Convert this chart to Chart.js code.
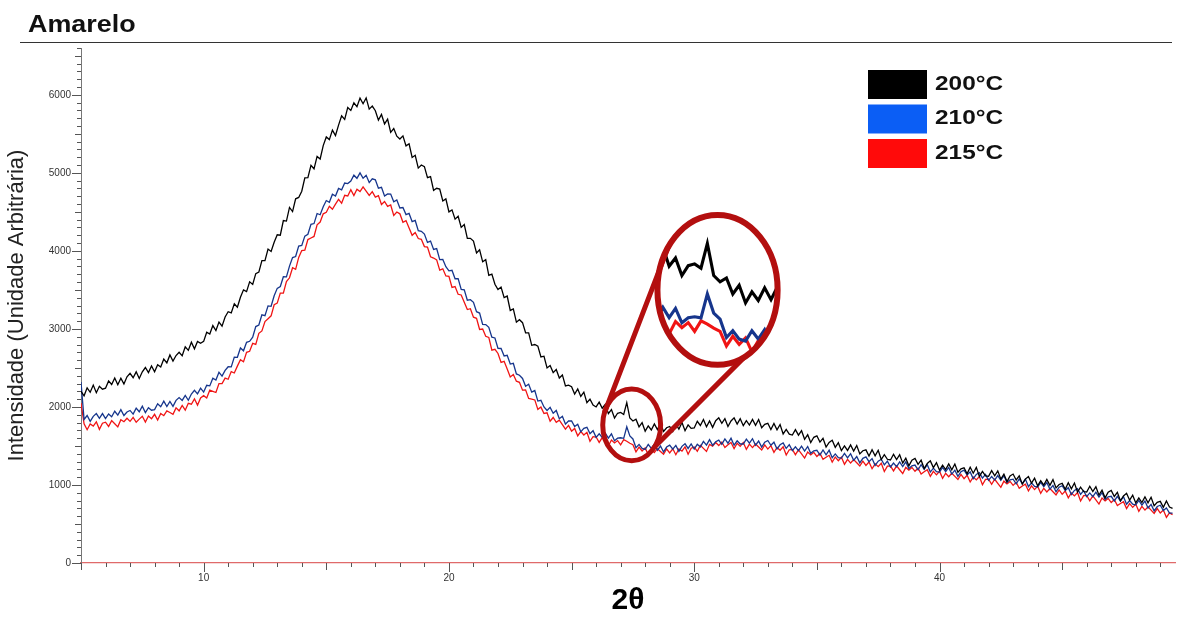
<!DOCTYPE html>
<html>
<head>
<meta charset="utf-8">
<script src="https://cdn.jsdelivr.net/npm/chart.js@4.4.0/dist/chart.umd.min.js"></script>
<style>
  html, body { margin: 0; padding: 0; background: #fff; }
  #wrap { position: relative; width: 1185px; height: 619px; }
  #chart { position: absolute; left: 0; top: 0; }
  #title { position: absolute; left: 28px; top: 10px; font: bold 24px "Liberation Sans", Arial, sans-serif; color: #111; transform: scaleX(1.12); transform-origin: left top; }
  #rule { position: absolute; left: 20px; top: 42px; width: 1152px; border-top: 1.5px solid #333; }
</style>
</head>
<body>
<div id="wrap">
  <canvas id="chart" width="1185" height="619"></canvas>
  <div id="title">Amarelo</div>
  <div id="rule"></div>
</div>
<script>
// 2θ grid: 5° to 49.5° every 0.125°
var thetaStart = 5;
var thetaStep = 0.125;

var seriesNames = ['200°C', '210°C', '215°C'];

// one row per degree (8 readings), last row 49 .. 49.5
var int200 = [
  2200,2143,2245,2188,2280,2183,2265,2228,
  2240,2334,2288,2371,2285,2369,2293,2386,
  2430,2375,2450,2365,2450,2505,2440,2525,
  2450,2541,2513,2614,2565,2666,2588,2659,
  2700,2655,2770,2725,2830,2745,2840,2815,
  2840,2958,2935,3043,2980,3088,3035,3153,
  3220,3206,3323,3279,3405,3501,3478,3604,
  3570,3709,3728,3876,3875,4024,3993,4111,
  4206,4201,4388,4382,4557,4504,4667,4685,
  4764,4935,4938,5097,5052,5211,5178,5349,
  5460,5426,5548,5478,5612,5730,5684,5838,
  5800,5897,5849,5958,5886,5960,5817,5855,
  5796,5676,5748,5627,5687,5519,5567,5470,
  5434,5474,5346,5373,5197,5225,5061,5100,
  5080,4939,4953,4776,4802,4793,4639,4666,
  4500,4525,4407,4444,4301,4338,4160,4161,
  4126,3973,4013,3860,3887,3686,3702,3573,
  3504,3536,3401,3421,3237,3257,3086,3118,
  3080,2950,2950,2790,2800,2780,2640,2650,
  2500,2530,2440,2480,2370,2410,2270,2280,
  2260,2165,2230,2135,2190,2055,2100,2025,
  2000,2061,1983,2034,1915,1966,1858,1919,
  1930,1903,2055,1858,1820,1843,1745,1798,
  1690,1758,1705,1783,1710,1788,1685,1733,
  1750,1685,1780,1715,1800,1695,1770,1725,
  1730,1816,1763,1839,1745,1821,1738,1824,
  1860,1790,1850,1750,1820,1860,1780,1850,
  1760,1824,1768,1841,1765,1839,1733,1776,
  1790,1709,1788,1706,1775,1654,1713,1651,
  1640,1709,1638,1696,1585,1644,1543,1611,
  1630,1549,1598,1486,1545,1574,1483,1541,
  1440,1501,1443,1514,1435,1506,1398,1439,
  1450,1371,1453,1374,1445,1326,1388,1329,
  1320,1393,1325,1388,1280,1343,1245,1318,
  1340,1264,1318,1211,1275,1309,1223,1286,
  1190,1254,1198,1271,1195,1269,1163,1206,
  1220,1144,1228,1151,1225,1109,1173,1116,
  1110,1184,1118,1181,1075,1139,1043,1116,
  1140,1064,1118,1011,1075,1109,1023,1086,
  990,1054,998,1071,995,1069,963,1006,
  1020,944,1028,951,1025,909,973,916,
  910,983,915,978,870,933,835,908,
  930,853,905,798,860,893,805,868,
  770,833,775,848,770,843,735,778,
  790,713,795,718,700
];

var int210 = [
  2320,1840,1890,1815,1880,1915,1855,1915,
  1850,1910,1875,1945,1895,1965,1890,1935,
  1955,1908,1985,1938,2010,1928,1990,1958,
  1965,2041,2003,2074,2005,2071,2008,2084,
  2120,2084,2148,2086,2165,2214,2168,2241,
  2190,2278,2270,2368,2345,2443,2395,2468,
  2515,2514,2638,2636,2755,2719,2828,2841,
  2895,3030,3050,3180,3170,3295,3290,3425,
  3520,3544,3668,3666,3805,3914,3928,4061,
  4070,4189,4213,4341,4350,4479,4463,4566,
  4645,4623,4725,4703,4800,4783,4870,4863,
  4895,4970,4930,5000,4930,4968,4875,4923,
  4910,4803,4815,4703,4730,4728,4630,4653,
  4550,4555,4465,4480,4375,4390,4260,4250,
  4215,4108,4125,4018,4030,3888,3890,3798,
  3745,3751,3643,3644,3505,3501,3368,3374,
  3340,3221,3203,3059,3055,3021,2893,2884,
  2750,2749,2653,2661,2550,2559,2423,2406,
  2365,2265,2290,2190,2210,2075,2085,2000,
  1955,1995,1920,1955,1850,1880,1780,1820,
  1820,1749,1778,1681,1725,1739,1658,1696,
  1610,1656,1608,1664,1600,1656,1568,1599,
  1605,1598,1745,1628,1590,1478,1520,1468,
  1455,1519,1468,1526,1445,1499,1423,1486,
  1510,1459,1508,1431,1495,1529,1468,1526,
  1460,1521,1488,1559,1510,1581,1508,1554,
  1575,1520,1590,1535,1600,1510,1565,1525,
  1525,1588,1535,1593,1510,1563,1485,1548,
  1570,1509,1548,1461,1515,1539,1468,1516,
  1440,1488,1440,1498,1435,1493,1405,1438,
  1445,1384,1448,1386,1445,1349,1398,1351,
  1345,1404,1348,1401,1315,1364,1283,1341,
  1360,1299,1338,1251,1305,1329,1258,1306,
  1230,1280,1235,1295,1235,1295,1210,1245,
  1255,1195,1260,1200,1260,1165,1215,1170,
  1165,1225,1170,1225,1140,1190,1110,1170,
  1190,1129,1168,1081,1135,1159,1088,1136,
  1060,1109,1063,1121,1060,1119,1033,1066,
  1075,1014,1078,1016,1075,979,1028,981,
  975,1034,978,1031,945,994,913,971,
  990,928,965,878,930,953,880,928,
  850,898,850,908,845,903,815,848,
  855,793,855,793,850,753,800,753,
  745,801,743,794,705,751,668,724,
  740,673,705,640,640
];

var int215 = [
  2050,1784,1708,1781,1755,1809,1713,1791,
  1805,1750,1825,1785,1745,1835,1810,1855,
  1815,1866,1803,1844,1880,1806,1883,1849,
  1905,1833,1915,1888,1950,1928,1905,1988,
  1950,2019,1958,2046,2035,2104,2023,2116,
  2145,2115,2215,2200,2185,2300,2300,2370,
  2355,2453,2435,2523,2605,2578,2700,2713,
  2815,2801,2943,2974,3095,3131,3168,3309,
  3330,3459,3458,3606,3655,3784,3763,3916,
  4005,4010,4145,4165,4185,4335,4370,4475,
  4495,4571,4533,4599,4660,4611,4713,4704,
  4785,4710,4790,4760,4820,4765,4710,4760,
  4690,4708,4595,4633,4570,4588,4455,4498,
  4475,4366,4388,4294,4200,4236,4158,4149,
  4055,4048,3925,3908,3885,3753,3770,3678,
  3675,3531,3543,3444,3435,3341,3248,3259,
  3150,3136,2993,2999,2905,2891,2728,2739,
  2685,2570,2585,2485,2385,2415,2330,2315,
  2215,2219,2108,2101,2090,1969,1998,1916,
  1925,1818,1865,1803,1830,1773,1715,1763,
  1690,1725,1630,1685,1640,1675,1560,1620,
  1615,1546,1608,1554,1500,1576,1538,1569,
  1515,1580,1560,1535,1515,1425,1485,1435,
  1475,1389,1458,1416,1465,1429,1393,1461,
  1410,1464,1388,1461,1435,1489,1393,1471,
  1485,1431,1508,1469,1430,1521,1498,1544,
  1505,1550,1480,1515,1545,1465,1535,1495,
  1545,1456,1523,1479,1525,1486,1448,1514,
  1460,1504,1418,1481,1445,1489,1383,1451,
  1455,1388,1450,1398,1345,1423,1385,1418,
  1365,1404,1328,1356,1380,1294,1358,1311,
  1355,1264,1328,1281,1325,1284,1243,1306,
  1250,1294,1208,1271,1235,1279,1173,1241,
  1245,1180,1245,1195,1145,1225,1190,1225,
  1175,1215,1140,1170,1195,1110,1175,1130,
  1175,1085,1150,1105,1150,1110,1070,1135,
  1080,1124,1038,1101,1065,1109,1003,1071,
  1075,1009,1073,1021,970,1049,1013,1046,
  995,1034,958,986,1010,924,988,941,
  985,894,958,911,955,914,873,936,
  880,923,835,898,860,903,795,863,
  865,798,860,808,755,833,795,828,
  775,813,735,763,785,698,760,713,
  755,663,725,678,720,678,635,698,
  640,678,585,643,620
];

var lineColors = ['#000000', '#16358c', '#f01414'];
var swatchColors = ['#000000', '#0b5ef5', '#ff0a0a'];

// magnifier: small spot on the curve and the enlarged lens, in data units
var zoomSpot = { x: 27.45, y: 1770, rx: 1.18, ry: 460 };
var zoomLens = { x: 30.95, y: 3500, rx: 2.45, ry: 960 };

var twoTheta = int200.map(function (_, i) { return thetaStart + i * thetaStep; });

function toPoints(values) {
    return values.map(function (v, i) { return { x: twoTheta[i], y: v }; });
}

function ellipsePx(xs, ys, e) {
    var cx = xs.getPixelForValue(e.x), cy = ys.getPixelForValue(e.y);
    return {
        cx: cx, cy: cy,
        rx: Math.abs(xs.getPixelForValue(e.x + e.rx) - cx),
        ry: Math.abs(ys.getPixelForValue(e.y + e.ry) - cy)
    };
}

// minor / major tick marks on both axes
var tickMarks = {
    id: 'tickMarks',
    afterDraw: function (chart) {
        var ctx = chart.ctx, a = chart.chartArea, x = chart.scales.x, y = chart.scales.y;
        ctx.save();
        ctx.strokeStyle = '#555';
        ctx.lineWidth = 1;
        ctx.beginPath();
        for (var v = 0; v <= 6600; v += 100) {
            var py = Math.round(y.getPixelForValue(v)) + 0.5;
            var len = v % 1000 === 0 ? 9 : (v % 500 === 0 ? 6 : 4);
            ctx.moveTo(a.left - len, py);
            ctx.lineTo(a.left, py);
        }
        for (var t = 5; t <= 49; t++) {
            var px = Math.round(x.getPixelForValue(t)) + 0.5;
            var l = t % 10 === 0 ? 9 : (t % 5 === 0 ? 7 : 4);
            ctx.moveTo(px, a.bottom);
            ctx.lineTo(px, a.bottom + l);
        }
        ctx.stroke();
        ctx.restore();
    }
};

var lens = {
    id: 'lens',
    afterDatasetsDraw: function (chart) {
        var ctx = chart.ctx, xs = chart.scales.x, ys = chart.scales.y;
        var s = ellipsePx(xs, ys, zoomSpot), b = ellipsePx(xs, ys, zoomLens);
        var kx = b.rx / s.rx, ky = b.ry / s.ry;

        // enlarged view of the curves inside the lens
        ctx.save();
        ctx.beginPath();
        ctx.ellipse(b.cx, b.cy, b.rx, b.ry, 0, 0, Math.PI * 2);
        ctx.fillStyle = '#fff';
        ctx.fill();
        ctx.clip();
        ctx.translate(b.cx, b.cy);
        ctx.scale(kx, ky);
        ctx.translate(-s.cx, -s.cy);
        for (var i = chart.data.datasets.length - 1; i >= 0; i--) {
            var pts = chart.getDatasetMeta(i).data;
            ctx.beginPath();
            pts.forEach(function (p, j) { if (j) ctx.lineTo(p.x, p.y); else ctx.moveTo(p.x, p.y); });
            ctx.strokeStyle = chart.data.datasets[i].borderColor;
            ctx.lineWidth = 1.5;
            ctx.stroke();
        }
        ctx.restore();

        // outlines and connectors
        ctx.save();
        ctx.strokeStyle = '#b30f0f';
        ctx.lineWidth = 5;
        ctx.beginPath();
        ctx.ellipse(s.cx, s.cy, s.rx, s.ry, 0, 0, Math.PI * 2);
        ctx.stroke();
        ctx.lineWidth = 6;
        ctx.beginPath();
        ctx.ellipse(b.cx, b.cy, b.rx, b.ry, 0, 0, Math.PI * 2);
        ctx.stroke();
        ctx.lineWidth = 5;
        function on(e, deg) {
            var r = deg * Math.PI / 180;
            return [e.cx + e.rx * Math.cos(r), e.cy + e.ry * Math.sin(r)];
        }
        var p1 = on(s, 200), q1 = on(b, 215), p2 = on(s, 38), q2 = on(b, 63);
        ctx.beginPath();
        ctx.moveTo(p1[0], p1[1]); ctx.lineTo(q1[0], q1[1]);
        ctx.moveTo(p2[0], p2[1]); ctx.lineTo(q2[0], q2[1]);
        ctx.stroke();
        ctx.restore();
    }
};

var boxLegend = {
    id: 'boxLegend',
    afterDraw: function (chart) {
        var ctx = chart.ctx;
        ctx.save();
        ctx.font = 'bold 20px "Liberation Sans", Arial, sans-serif';
        ctx.textBaseline = 'middle';
        chart.data.datasets.forEach(function (ds, i) {
            var top = 70 + i * 34.5;
            ctx.fillStyle = swatchColors[i];
            ctx.fillRect(868, top, 59, 29);
            ctx.save();
            ctx.translate(935, top + 14);
            ctx.scale(1.22, 1);
            ctx.fillStyle = '#111';
            ctx.fillText(ds.label, 0, 0);
            ctx.restore();
        });
        ctx.restore();
    }
};

var ctx = document.getElementById('chart').getContext('2d');
var datasets = [int200, int210, int215].map(function (vals, i) {
    return {
        label: seriesNames[i],
        data: toPoints(vals),
        borderColor: lineColors[i],
        borderWidth: 1.3,
        pointRadius: 0,
        tension: 0,
        fill: false
    };
});

var chart = new Chart(ctx, {
    type: 'line',
    data: { datasets: datasets },
    options: {
        responsive: false,
        animation: false,
        layout: { padding: { top: 48, right: 10, left: 0, bottom: 0 } },
        plugins: {
            legend: { display: false },
            tooltip: { enabled: false }
        },
        scales: {
            x: {
                type: 'linear',
                min: 5,
                max: 49.6,
                afterFit: function (scale) { scale.height = 56; },
                grid: { drawOnChartArea: false, drawTicks: false },
                border: { color: '#e06a6a', width: 1.2 },
                ticks: {
                    stepSize: 10,
                    padding: 9,
                    maxRotation: 0,
                    autoSkip: false,
                    color: '#333',
                    font: { family: '"Liberation Sans", Arial, sans-serif', size: 10 },
                    callback: function (v) { return v % 10 === 0 ? v : null; }
                },
                title: {
                    display: true,
                    text: '2θ',
                    color: '#000',
                    padding: 0,
                    font: { family: '"Liberation Sans", Arial, sans-serif', size: 30, weight: 'bold' }
                }
            },
            y: {
                min: 0,
                max: 6600,
                afterFit: function (scale) { scale.width = 81; },
                grid: { drawOnChartArea: false, drawTicks: false },
                border: { color: '#777', width: 1 },
                ticks: {
                    stepSize: 100,
                    autoSkip: false,
                    padding: 10,
                    color: '#333',
                    font: { family: '"Liberation Sans", Arial, sans-serif', size: 10 },
                    callback: function (v) {
                        var r = Math.round(v);
                        return r % 1000 === 0 ? r : null;
                    }
                },
                title: {
                    display: true,
                    text: 'Intensidade (Unidade Arbitrária)',
                    color: '#222',
                    padding: { top: 4 },
                    font: { family: '"Liberation Sans", Arial, sans-serif', size: 22 }
                }
            }
        }
    },
    plugins: [tickMarks, lens, boxLegend]
});
</script>
</body>
</html>
